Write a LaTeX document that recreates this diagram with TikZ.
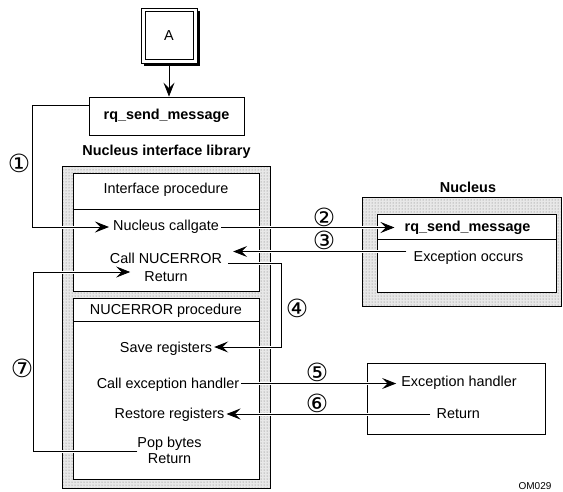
\documentclass[tikz,border=0pt]{standalone}
\usepackage{fontspec}
\setmainfont{Liberation Sans}
\newfontfamily\circfont{DejaVu Sans}
\usetikzlibrary{arrows.meta,patterns}
\begin{document}
\begin{tikzpicture}[x=1pt,y=-1pt,
  txt/.style={font=\fontsize{14.4}{16}\selectfont, inner sep=2pt, align=center},
  btxt/.style={font=\fontsize{14.4}{16}\selectfont\bfseries, inner sep=2pt},
  num/.style={font=\circfont\fontsize{25}{25}\selectfont, inner sep=0pt},
  box/.style={draw, line width=0.8pt, fill=white},
  divider/.style={line width=0.8pt},
  shadebox/.style={draw, line width=0.8pt, preaction={fill=black!9}, pattern=dots, pattern color=black!55},
  tip/.style={-{Stealth[length=14pt,width=11pt,inset=5.5pt]}},
  conn/.style={line width=0.8pt, tip,
               preaction={draw=white, line width=3pt, -}},
  small/.style={font=\fontsize{10}{12}\selectfont, inner sep=0pt}
]
\useasboundingbox (0,0) rectangle (563,491);

% --- box A (double border with shadow)
\fill (144,11) rectangle (200,66);
\node[txt, draw, line width=0.8pt, fill=white, minimum width=56pt, minimum height=55pt] (A) at (169,35.5) {A};
\draw[line width=0.6pt] ([shift={(4.5pt,-4pt)}]A.north west) rectangle ([shift={(-4.5pt,4pt)}]A.south east);

% --- rq_send_message caller box
\node[btxt, box, minimum width=155pt, minimum height=38pt] (rq) at (166.5,116) {rq\_send\_message};
\draw[line width=0.8pt, tip] (A.south) -- (A.south |- rq.north);

% --- Nucleus interface library
\node[btxt] (libt) at (166.5,152) {Nucleus interface library};
\draw[shadebox] (62.5,166) rectangle (270,488);
\draw[box] (73,173) rectangle (259,291);
\draw[divider] (73,209) -- (259,209);
\draw[box] (73,298) rectangle (259,479);
\draw[divider] (73,321) -- (259,321);

\node[txt] (ip)  at (166,190) {Interface procedure};
\node[txt] (cg)  at (166,227) {Nucleus callgate};
\node[txt] (cn)  at (166,258) {Call NUCERROR};
\node[txt] (ret1) at (166,277) {Return};
\node[txt] (np)  at (166,310.5) {NUCERROR procedure};
\node[txt] (sr)  at (166,349) {Save registers};
\node[txt] (ceh) at (168,384.5) {Call exception handler};
\node[txt] (rr)  at (169.5,415) {Restore registers};
\node[txt] (pop) at (169.5,450) {Pop bytes\\Return};

% --- Nucleus
\node[btxt] (nt) at (468,187) {Nucleus};
\draw[shadebox] (362,197) rectangle (561,306);
\draw[box] (377,214) rectangle (556,292);
\draw[divider] (377,239) -- (556,239);
\node[btxt] (nrq) at (467.5,227.5) {rq\_send\_message};
\node[txt] (exc) at (468.5,258) {Exception occurs};

% --- Exception handler
\draw[box] (367,363) rectangle (545,434);
\node[txt] (eh)   at (459,383) {Exception handler};
\node[txt] (ret2) at (458.3,414) {Return};

\node[small] (om) at (535,486) {OM029};

% --- connectors
\coordinate (k1) at (32,105);
\draw[conn] ([yshift=11pt]rq.west) -- (k1) |- ([xshift=-2pt]cg.west);
\node[num] (n1) at (19,163) {①};

\draw[conn] ([yshift=-0.5pt]cg.east) -- ([xshift=-8pt,yshift=-0.5pt]cg.east -| nrq.west);
\node[num] (n2) at (324,217) {②};

\coordinate (s3) at ([shift={(-5pt,6.5pt)}]exc.west);
\draw[conn] (s3) -- ([xshift=9pt]s3 -| cn.east);
\node[num] (n3) at (324,240) {③};

\coordinate (s4) at ([shift={(4pt,-5pt)}]cn.east);
\draw[conn] (s4) -- ++(53pt,0pt) |- ([yshift=2pt]sr.east);
\node[num] (n4) at (297,308) {④};

\draw[conn] ([yshift=1pt]ceh.east) -- ([xshift=-3pt,yshift=1pt]ceh.east -| eh.west);
\node[num] (n5) at (317,372) {⑤};

\draw[conn] ([xshift=-4pt]ret2.west) -- ([yshift=0pt]ret2.west -| rr.east);
\node[num] (n6) at (317,403) {⑥};

\coordinate (k7) at (33,451.5);
\draw[conn] ([shift={(2pt,-1.5pt)}]pop.west) -- (k7) |- ([shift={(-12pt,5pt)}]ret1.west);
\node[num] (n7) at (22,368) {⑦};
\end{tikzpicture}
\end{document}
